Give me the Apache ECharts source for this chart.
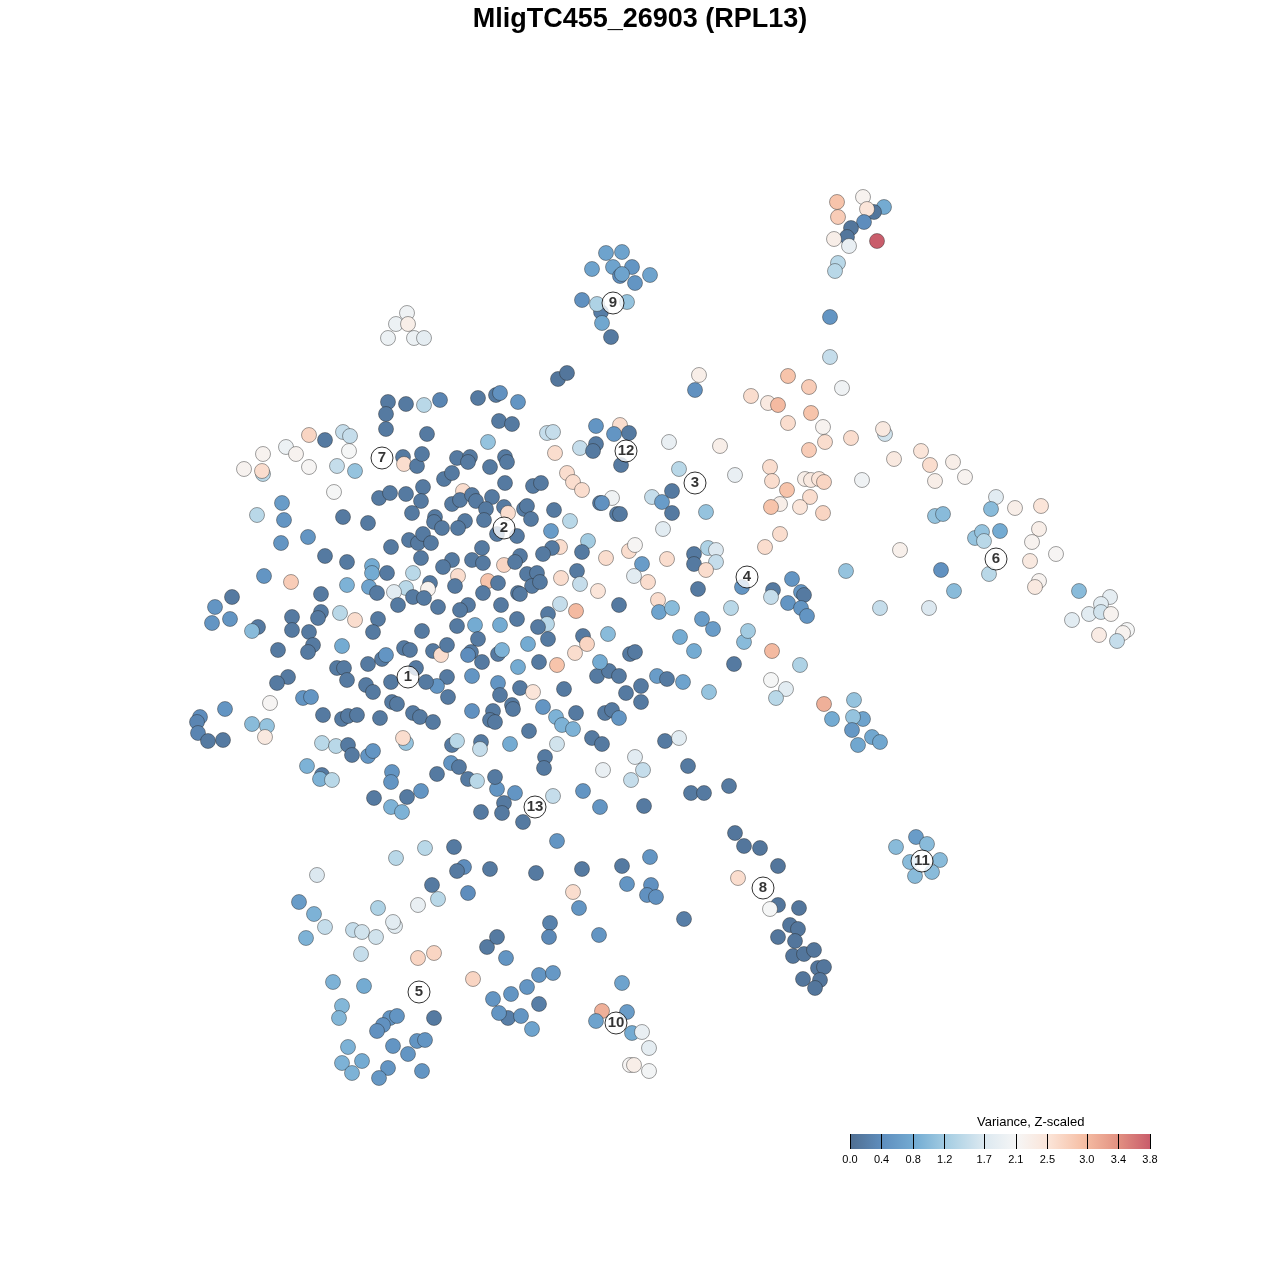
<!DOCTYPE html>
<html><head><meta charset="utf-8">
<script src="https://cdn.jsdelivr.net/npm/echarts@6/dist/echarts.min.js"></script>
<style>html,body{margin:0;padding:0;background:#fff}#c{width:1280px;height:1280px}</style>
</head><body><div id="c"></div>
<script>
// embedding coordinates (tSNE_1, tSNE_2 in plot units) and Z-scaled variance
const ptsNE = [[837,202,2.9],[838,217,2.8],[863,197,2.2],[884,207,0.8],[874,212,0.1],[867,209,2.5],[864,222,0.4],[851,228,0.1],[847,237,0.1],[834,239,2.3],[849,246,1.9],[877,241,3.8],[838,263,1.4],[835,271,1.4],[830,317,0.5],[830,357,1.5],[842,388,2.0]];
const ptsC9 = [[606,253,0.7],[622,252,0.7],[592,269,0.7],[613,267,0.7],[632,267,0.5],[620,276,0.4],[622,274,0.7],[650,275,0.7],[635,283,0.5],[582,300,0.45],[601,312,0.2],[597,304,1.3],[627,302,1.1],[602,323,0.75],[611,337,0.15]];
const ptsWhiteTop = [[407,313,2.0],[396,324,1.95],[408,324,2.3],[388,338,1.95],[414,338,1.95],[424,338,1.85]];
const ptsUpperRight = [[558,379,0.1],[567,373,0.1],[699,375,2.3],[695,390,0.45],[788,376,2.9],[809,387,2.8],[751,396,2.6],[768,403,2.4],[778,405,3.0],[811,413,2.9],[788,423,2.6],[823,427,2.2],[825,442,2.6],[809,450,2.8],[851,438,2.6],[885,434,1.6],[883,429,2.4],[894,459,2.4],[921,451,2.5],[930,465,2.6],[953,462,2.3],[862,480,2.0],[965,477,2.2],[935,481,2.3],[720,446,2.3],[735,475,1.9],[669,442,1.9],[679,469,1.4],[770,467,2.6],[772,481,2.6],[787,490,2.9],[805,479,2.3],[811,480,2.4],[819,479,2.5],[824,482,2.7],[810,497,2.6],[800,507,2.5],[780,504,2.3],[771,507,2.9],[823,513,2.7]];
const ptsC6 = [[996,497,1.8],[991,509,1.0],[1015,508,2.3],[1041,506,2.5],[935,516,1.1],[943,514,1.0],[1039,529,2.3],[975,538,1.1],[982,532,1.1],[984,541,1.4],[1000,531,0.8],[1032,542,2.2],[1056,554,2.15],[1030,561,2.4],[989,574,1.4],[1039,581,2.2],[1035,587,2.4],[900,550,2.25],[846,571,1.1],[941,570,0.45],[954,591,1.0],[880,608,1.5],[929,608,1.7],[1079,591,1.0],[1110,597,1.85],[1101,604,1.8],[1089,614,1.8],[1101,612,1.6],[1111,614,2.2],[1072,620,1.8],[1127,630,2.1],[1123,633,2.2],[1099,635,2.35],[1117,641,1.5]];
const ptsEast = [[824,704,3.1],[854,700,1.1],[832,719,0.8],[863,719,0.7],[853,717,1.1],[852,730,0.55],[872,737,0.75],[880,742,0.75],[858,745,0.75]];
const ptsC11 = [[916,837,0.6],[896,847,1.0],[927,844,1.0],[910,862,1.0],[940,860,1.0],[932,872,1.0],[915,876,1.0]];
const ptsC8 = [[688,766,0.15],[691,793,0.15],[704,793,0.15],[729,786,0.15],[735,833,0.1],[744,846,0.1],[760,848,0.1],[778,866,0.1],[738,878,2.6],[778,905,0.1],[770,909,2.1],[799,908,0.1],[790,925,0.1],[798,929,0.1],[778,937,0.1],[795,941,0.1],[793,956,0.1],[804,954,0.1],[814,950,0.1],[818,968,0.1],[824,967,0.1],[803,979,0.1],[820,980,0.1],[815,988,0.1]];
const ptsC10 = [[622,983,0.7],[602,1011,3.1],[627,1012,0.6],[596,1021,0.7],[632,1033,0.8],[642,1032,1.9],[649,1048,1.85],[630,1065,2.15],[634,1065,2.3],[649,1071,2.05]];
const ptsLowerMid = [[515,793,0.5],[497,789,0.5],[553,796,1.5],[583,791,0.5],[504,803,0.15],[502,813,0.15],[523,822,0.15],[600,807,0.5],[644,806,0.15],[557,841,0.5],[536,873,0.15],[582,869,0.15],[622,866,0.15],[650,857,0.5],[627,884,0.5],[651,885,0.45],[647,895,0.45],[656,897,0.45],[573,892,2.6],[579,908,0.5],[684,919,0.2],[550,923,0.25],[549,937,0.35],[599,935,0.5],[506,958,0.5],[539,975,0.5],[553,973,0.55],[527,987,0.5],[511,994,0.5],[539,1004,0.2],[508,1018,0.2],[521,1016,0.5],[532,1029,0.7]];
const ptsLowerLeft = [[374,798,0.15],[391,807,0.9],[402,812,0.9],[407,797,0.15],[421,791,0.5],[481,812,0.15],[425,848,1.4],[396,858,1.4],[454,847,0.15],[464,867,0.4],[457,871,0.15],[490,869,0.15],[317,875,1.7],[432,885,0.15],[438,899,1.4],[468,893,0.4],[418,905,1.9],[299,902,0.6],[314,914,0.9],[325,927,1.5],[306,938,0.9],[378,908,1.3],[395,926,1.8],[393,922,1.8],[353,930,1.5],[362,932,1.6],[376,937,1.6],[361,954,1.5],[418,958,2.7],[434,953,2.7],[473,979,2.7],[487,947,0.15],[497,937,0.15],[333,982,0.9],[364,986,0.8],[342,1006,0.95],[339,1018,0.95],[390,1018,0.5],[397,1016,0.5],[383,1025,0.45],[377,1031,0.45],[434,1018,0.15],[348,1047,0.9],[362,1061,0.8],[342,1063,0.9],[352,1073,0.9],[393,1046,0.5],[408,1054,0.5],[417,1041,0.5],[425,1040,0.5],[388,1068,0.5],[379,1078,0.55],[422,1071,0.5],[493,999,0.5],[499,1013,0.5]];
const ptsUpperCore = [[388,402,0.15],[406,404,0.15],[424,405,1.4],[440,400,0.3],[478,398,0.15],[496,395,0.15],[500,393,0.45],[518,402,0.5],[386,414,0.15],[386,429,0.15],[427,434,0.15],[499,421,0.15],[512,424,0.15],[547,433,1.5],[553,432,1.5],[596,426,0.5],[620,425,2.6],[614,434,0.5],[629,433,0.15],[488,442,1.1],[403,457,0.15],[404,464,2.6],[417,466,0.15],[422,454,0.15],[457,458,0.15],[470,457,0.15],[468,462,0.15],[490,467,0.15],[505,457,0.15],[507,462,0.15],[555,453,2.6],[580,448,1.5],[596,444,0.15],[593,451,0.15],[621,465,0.15],[444,479,0.15],[452,473,0.15],[463,491,2.6],[423,487,0.15],[406,494,0.15],[379,498,0.15],[390,493,0.15],[421,501,0.15],[452,504,0.15],[460,500,0.15],[472,495,0.15],[476,501,0.15],[492,497,0.15],[505,483,0.15],[533,486,0.15],[541,483,0.15],[567,473,2.6],[573,482,2.6],[582,490,2.6],[612,498,2.0],[600,503,0.15],
  [309,435,2.7],[325,440,0.15],[343,432,1.5],[350,436,1.5],[349,451,2.1],[286,447,1.95],[296,454,2.2],[263,454,2.2],[244,469,2.2],[263,474,1.4],[262,471,2.6],[309,467,2.15],[337,466,1.5],[355,471,1.1]];
const ptsCore = [[486,509,0.15],[504,507,0.15],[508,513,2.6],[524,509,0.15],[527,506,0.15],[554,510,0.15],[531,519,0.15],[570,521,1.4],[617,514,0.15],[368,523,0.15],[412,513,0.15],[435,517,0.15],[434,522,0.15],[442,528,0.15],[465,521,0.15],[458,528,0.15],[484,520,0.15],[517,536,0.15],[497,534,0.15],[551,531,0.6],[588,541,1.2],[560,547,2.6],[582,552,0.15],[606,558,2.6],[552,548,0.15],[543,554,0.15],[391,547,0.15],[409,540,0.15],[418,543,0.15],[423,534,0.15],[431,543,0.15],[421,558,0.15],[452,560,0.15],[443,567,0.15],[472,560,0.15],[482,548,0.15],[483,563,0.15],[504,565,2.7],[520,556,0.15],[515,562,0.15],[372,566,0.8],[372,573,0.8],[369,587,0.7],[387,573,0.15],[413,573,1.4],[458,576,2.6],[488,581,2.9],[498,583,0.15],[527,574,0.15],[537,573,0.15],[532,586,0.15],[540,582,0.15],[561,578,2.6],[577,571,0.15],[580,584,1.5],[598,591,2.5],[406,588,1.4],[394,592,1.8],[430,583,0.15],[428,589,2.2],[377,593,0.15],[455,586,0.15],[483,593,0.15],[518,593,0.15],[413,597,0.15],
  [334,492,2.1],[282,503,0.6],[257,515,1.4],[284,520,0.5],[343,517,0.15],[281,543,0.5],[308,537,0.5],[325,556,0.15],[347,562,0.15],[264,576,0.5],[291,582,2.8],[347,585,0.9],[232,597,0.15]];
const ptsCoreLow = [[468,605,0.15],[460,610,0.15],[501,605,0.15],[398,605,0.15],[424,598,0.15],[438,607,0.15],[215,607,0.5],[212,623,0.5],[230,619,0.5],[258,627,0.15],[252,631,1.0],[292,617,0.15],[292,630,0.15],[321,594,0.15],[321,612,0.15],[318,618,0.15],[309,632,0.15],[340,613,1.4],[355,620,2.6],[378,619,0.15],[373,632,0.15],[422,631,0.15],[457,626,0.15],[475,625,0.8],[500,625,0.8],[478,639,0.15],[278,650,0.15],[313,645,0.15],[308,652,0.15],[342,646,0.8],[337,668,0.15],[344,668,0.15],[347,680,0.15],[368,664,0.15],[382,659,0.15],[386,655,0.5],[404,648,0.15],[410,650,0.15],[416,668,0.15],[433,651,0.15],[441,655,2.6],[447,645,0.15],[471,652,0.15],[468,655,0.4],[482,662,0.15],[498,654,0.15],[502,650,0.9],[447,677,0.15],[448,697,0.15],[437,686,0.5],[426,682,0.15],[391,682,0.15],[366,685,0.15],[373,692,0.15],[288,677,0.15],[277,683,0.15],[303,698,0.5],[311,697,0.5],[472,676,0.5],[498,683,0.5],[500,695,0.15],[392,702,0.15],[397,704,0.15],[413,713,0.15],[420,717,0.15],[433,722,0.15],[472,711,0.45],[493,711,0.15],[490,720,0.15],[495,722,0.15],[323,715,0.15],[342,719,0.15],[348,716,0.15],[357,715,0.15],[380,718,0.15],[225,709,0.5],[200,717,0.4],[197,722,0.3],[198,733,0.3],[208,741,0.15],[223,740,0.15],[252,724,1.0],[267,726,1.1],[265,737,2.4],[270,703,2.15],[322,743,1.4],[336,746,1.4],[348,745,0.15],[352,755,0.15],[368,756,0.5],[373,751,0.5],[406,743,1.1],[403,738,2.6],[452,745,0.15],[457,741,1.4],[481,742,0.15],[480,749,1.5],[307,766,0.9],[322,775,0.15],[320,779,0.9],[332,780,1.4],[392,772,0.5],[391,782,0.5],[437,774,0.15],[451,763,0.5],[459,767,0.15],[468,779,0.15],[477,781,1.4],[495,777,0.15]];
const ptsCoreRight = [[520,594,0.15],[560,604,1.5],[576,611,3.0],[548,614,0.15],[547,624,1.4],[538,627,0.15],[517,619,0.15],[548,639,0.15],[583,636,0.15],[587,644,2.7],[575,653,2.6],[608,634,1.0],[619,605,0.15],[528,644,0.8],[518,667,0.8],[520,688,0.15],[533,692,2.5],[539,662,0.15],[557,665,2.9],[564,689,0.15],[543,707,0.5],[512,705,0.15],[513,709,0.15],[529,731,0.15],[556,717,0.9],[562,725,0.9],[573,729,0.9],[576,713,0.15],[597,676,0.15],[609,671,0.15],[619,676,0.15],[600,662,0.8],[626,693,0.15],[605,713,0.15],[612,710,0.15],[619,718,0.5],[510,744,0.8],[557,744,1.6],[592,738,0.15],[602,744,0.15],[545,757,0.15],[544,768,0.15],[603,770,1.9],
  [602,503,0.45],[620,514,0.15],[652,497,1.5],[662,502,0.6],[672,491,0.15],[672,513,0.15],[663,529,1.8],[706,512,1.1],[629,551,2.6],[635,545,2.15],[642,564,0.6],[634,576,1.8],[648,582,2.6],[667,559,2.6],[694,554,0.15],[694,564,0.15],[708,548,1.3],[716,550,1.7],[716,562,1.5],[706,570,2.6],[698,589,0.15],[742,587,0.5],[765,547,2.6],[780,534,2.6],[792,579,0.5],[773,590,0.15],[771,597,1.5],[801,592,0.5],[804,595,0.15],[788,603,0.5],[801,608,0.5],[807,616,0.5],[731,608,1.4],[658,600,2.6],[659,612,0.7],[672,608,1.0],[630,654,0.15],[635,652,0.15],[641,686,0.15],[641,702,0.15],[657,676,0.6],[667,679,0.15],[683,682,0.7],[680,637,0.8],[694,651,0.8],[702,619,0.6],[713,629,0.6],[709,692,1.1],[734,664,0.15],[744,642,1.0],[748,631,1.2],[772,651,3.0],[771,680,2.1],[786,689,1.8],[776,698,1.4],[800,665,1.3],[665,741,0.15],[679,738,1.8],[635,757,1.8],[643,770,1.5],[631,780,1.5]];

const clusterLabels = [[408,677,'1'],[504,528,'2'],[695,483,'3'],[747,577,'4'],[419,992,'5'],[996,559,'6'],[382,458,'7'],[763,888,'8'],[613,303,'9'],[616,1023,'10'],[922,861,'11'],[626,451,'12'],[535,807,'13']];

const legendTicks = [0, 0.4, 0.8, 1.2, 1.7, 2.1, 2.5, 3.0, 3.4, 3.8];
const legendColors = ['#4f6e91','#5f8fbf','#76aed4','#aad0e4','#dbe8f0','#f6f6f6','#fbe3d6','#f6bfa5','#e39383','#c95d6b'];
const chartTitle = 'MligTC455_26903 (RPL13)';
const legendTitle = 'Variance, Z-scaled';

const allPts = [].concat(ptsNE, ptsC9, ptsWhiteTop, ptsUpperRight, ptsC6, ptsEast, ptsC11, ptsC8, ptsC10, ptsLowerMid, ptsLowerLeft, ptsUpperCore, ptsCore, ptsCoreLow, ptsCoreRight);

const FONT = 'Liberation Sans, Arial, sans-serif';
const chart = echarts.init(document.getElementById('c'), null, {renderer: 'canvas'});
chart.setOption({
  backgroundColor: '#fff',
  animation: false,
  title: [
    {text: chartTitle, left: 'center', top: 6, padding: 0,
     textStyle: {fontSize: 27, fontWeight: 'bold', color: '#000', fontFamily: FONT}},
    {text: legendTitle, left: 977, top: 1116, padding: 0,
     textStyle: {fontSize: 13, fontWeight: 'normal', color: '#000', fontFamily: FONT}}
  ],
  grid: [
    {left: 0, top: 0, width: 1280, height: 1280},
    {left: 850, top: 1134, width: 300, height: 15}
  ],
  xAxis: [
    {gridIndex: 0, type: 'value', min: 0, max: 1280, show: false},
    {gridIndex: 1, type: 'value', min: 0, max: 3.8, z: 10,
     axisLine: {show: false}, splitLine: {show: false},
     axisTick: {show: true, inside: true, length: 15, customValues: legendTicks, lineStyle: {color: '#000', width: 1}},
     axisLabel: {show: true, customValues: legendTicks, margin: 5, fontSize: 11, color: '#000', fontFamily: FONT,
                 formatter: v => Number(v).toFixed(1)}}
  ],
  yAxis: [
    {gridIndex: 0, type: 'value', min: 0, max: 1280, inverse: true, show: false},
    {gridIndex: 1, type: 'value', min: 0, max: 1, show: false}
  ],
  visualMap: {show: false, type: 'continuous', min: 0, max: 3.8, dimension: 2, seriesIndex: 0,
              inRange: {color: legendColors}},
  series: [
    {type: 'scatter', xAxisIndex: 0, yAxisIndex: 0, data: allPts, symbol: 'circle', symbolSize: 15,
     itemStyle: {borderColor: 'rgba(40,40,40,0.55)', borderWidth: 0.8, opacity: 1}},
    {type: 'scatter', xAxisIndex: 0, yAxisIndex: 0, symbolSize: 22, z: 5,
     data: clusterLabels.map(d => ({value: [d[0], d[1]], name: d[2]})),
     itemStyle: {color: '#fff', borderColor: '#000', borderWidth: 1},
     label: {show: true, position: 'inside', formatter: p => p.name, fontSize: 15, fontWeight: 'bold',
             color: '#000', textBorderWidth: 0, fontFamily: FONT}},
    {type: 'custom', xAxisIndex: 1, yAxisIndex: 1, data: [[0, 0]], z: 0,
     renderItem: (params, api) => {
       const p0 = api.coord([0, 1]);
       const p1 = api.coord([3.8, 0]);
       return {type: 'rect', shape: {x: p0[0], y: p0[1], width: p1[0] - p0[0], height: p1[1] - p0[1]},
         style: {fill: new echarts.graphic.LinearGradient(0, 0, 1, 0,
           legendColors.map((c, i) => ({offset: i / (legendColors.length - 1), color: c})))}};
     }}
  ]
});
</script></body></html>
